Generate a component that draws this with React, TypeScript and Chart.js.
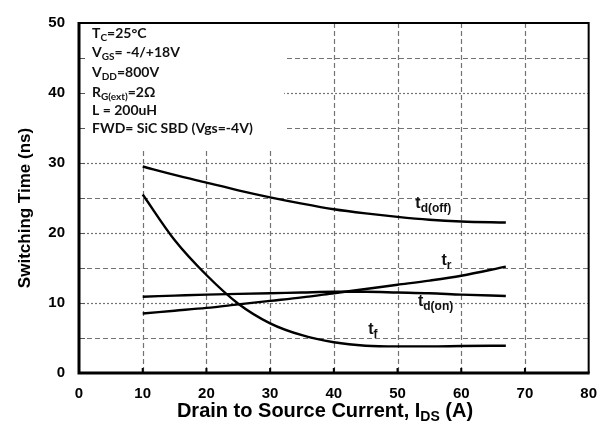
import { useEffect, useRef } from "react";
import { Chart, registerables } from "chart.js";

Chart.register(...registerables);

// ---- data ----
const currents = [10, 15, 20, 25, 30, 35, 40, 45, 50, 55, 60, 67];
const tdOff = [29.5, 28.3, 27.2, 26.1, 25.1, 24.2, 23.4, 22.8, 22.3, 21.9, 21.65, 21.5];
const tRise = [8.5, 8.9, 9.3, 9.8, 10.3, 10.8, 11.4, 12.0, 12.6, 13.2, 13.9, 15.2];
const tdOn = [10.9, 11.05, 11.2, 11.3, 11.4, 11.5, 11.6, 11.6, 11.5, 11.4, 11.2, 11.0];
const tFall = [25.5, 19.0, 14.0, 9.9, 7.1, 5.4, 4.4, 3.9, 3.8, 3.8, 3.85, 3.9];

const xMin = 0;
const xMax = 80;
const xStep = 10;
const yMin = 0;
const yMax = 50;
const yStep = 10;
const yMinorStep = 5;

const xTitle: [string, boolean][] = [
  ["Drain to Source Current, I", false],
  ["DS", true],
  [" (A)", false],
];
const yTitle = "Switching Time (ns)";

const conditions: [string, boolean][][] = [
  [["T", false], ["C", true], ["=25°C", false]],
  [["V", false], ["GS", true], ["= -4/+18V", false]],
  [["V", false], ["DD", true], ["=800V", false]],
  [["R", false], ["G(ext)", true], ["=2Ω", false]],
  [["L = 200uH", false]],
  [["FWD= SiC SBD (Vgs=-4V)", false]],
];

const curveLabelNames = ["d(off)", "r", "d(on)", "f"];
const curveLabelX = [52.8, 56.9, 53.2, 45.4];
const curveLabelY = [23.6, 15.5, 9.6, 5.6];

const FONT = '"Liberation Sans", Arial, sans-serif';
const NOTE_FONT = 'Lato, "Open Sans", sans-serif';

type Part = [string, boolean];

function drawRich(
  ctx: CanvasRenderingContext2D,
  parts: Part[],
  x: number,
  y: number,
  size: number,
  subSize: number,
  subDrop: number,
  family: string,
  align: "left" | "center"
) {
  ctx.textBaseline = "alphabetic";
  ctx.textAlign = "left";
  let total = 0;
  for (const [t, sub] of parts) {
    ctx.font = `bold ${sub ? subSize : size}px ${family}`;
    total += ctx.measureText(t).width;
  }
  let cx = align === "center" ? x - total / 2 : x;
  for (const [t, sub] of parts) {
    ctx.font = `bold ${sub ? subSize : size}px ${family}`;
    ctx.fillText(t, cx, sub ? y + subDrop : y);
    cx += ctx.measureText(t).width;
  }
}

const decor = {
  id: "decor",
  beforeDatasetsDraw(chart: any) {
    const { ctx, chartArea: a, scales } = chart;
    const xs = scales.x;
    const ys = scales.y;
    ctx.save();
    ctx.strokeStyle = "#737373";
    ctx.lineWidth = 1.2;
    // vertical dashed grid
    ctx.setLineDash([5, 3]);
    for (let v = xMin + xStep; v < xMax; v += xStep) {
      const px = Math.round(xs.getPixelForValue(v)) + 0.5;
      ctx.beginPath();
      ctx.moveTo(px, a.top);
      ctx.lineTo(px, a.bottom);
      ctx.stroke();
    }
    // horizontal grid: dotted at majors, dashed at half steps
    for (let v = yMin + yMinorStep; v < yMax; v += yMinorStep) {
      const major = v % yStep === 0;
      ctx.setLineDash(major ? [2, 2] : [5, 3]);
      const py = Math.round(ys.getPixelForValue(v)) + 0.5;
      ctx.beginPath();
      ctx.moveTo(a.left, py);
      ctx.lineTo(a.right, py);
      ctx.stroke();
    }
    ctx.setLineDash([]);
    // white box behind the test conditions
    const boxRight = xs.getPixelForValue(32.2);
    const boxBottom = ys.getPixelForValue(32);
    ctx.fillStyle = "#fff";
    ctx.fillRect(a.left, a.top, boxRight - a.left, boxBottom - a.top);
    // short inner ticks on left axis
    ctx.strokeStyle = "#555";
    ctx.lineWidth = 1;
    for (let v = yMin + yMinorStep; v < yMax; v += yMinorStep) {
      const py = Math.round(ys.getPixelForValue(v)) + 0.5;
      ctx.beginPath();
      ctx.moveTo(a.left, py);
      ctx.lineTo(a.left + 6, py);
      ctx.stroke();
    }
    // test conditions
    ctx.fillStyle = "#111";
    const baselines = [38, 57, 77, 97, 115, 133];
    conditions.forEach((line, i) => {
      drawRich(ctx, line, a.left + 13, baselines[i], 14, 10, 3, NOTE_FONT, "left");
    });
    ctx.restore();
  },
  afterDatasetsDraw(chart: any) {
    const { ctx, chartArea: a, scales } = chart;
    const xs = scales.x;
    const ys = scales.y;
    ctx.save();
    // frame
    ctx.strokeStyle = "#000";
    ctx.lineWidth = 2;
    ctx.beginPath();
    ctx.moveTo(a.left, a.top);
    ctx.lineTo(a.right, a.top);
    ctx.lineTo(a.right, a.bottom);
    ctx.stroke();
    ctx.lineWidth = 3;
    ctx.beginPath();
    ctx.moveTo(a.left, a.top - 1);
    ctx.lineTo(a.left, a.bottom);
    ctx.lineTo(a.right + 1, a.bottom);
    ctx.stroke();
    // small inner ticks on x axis
    ctx.lineWidth = 2;
    for (let v = xMin + xStep; v < xMax; v += xStep) {
      const px = xs.getPixelForValue(v);
      ctx.beginPath();
      ctx.moveTo(px, a.bottom);
      ctx.lineTo(px, a.bottom - 5);
      ctx.stroke();
    }
    // curve labels
    ctx.fillStyle = "#111";
    curveLabelNames.forEach((name, i) => {
      const px = xs.getPixelForValue(curveLabelX[i]);
      const py = ys.getPixelForValue(curveLabelY[i]);
      drawRich(ctx, [["t", false], [name, true]], px, py, 16, 12, 4, FONT, "left");
    });
    // axis titles
    ctx.fillStyle = "#000";
    drawRich(ctx, xTitle, 325, 417, 20, 14, 4, FONT, "center");
    ctx.save();
    ctx.translate(30, (a.top + a.bottom) / 2 + 10);
    ctx.rotate(-Math.PI / 2);
    ctx.font = `bold 17px ${FONT}`;
    ctx.textAlign = "center";
    ctx.textBaseline = "alphabetic";
    ctx.fillText(yTitle, 0, 0);
    ctx.restore();
    ctx.restore();
  },
};

function series(values: number[]) {
  return currents.map((x, i) => ({ x, y: values[i] }));
}

export default function App() {
  const ref = useRef<HTMLCanvasElement | null>(null);
  useEffect(() => {
    document.body.style.margin = "0";
    const canvas = ref.current;
    if (!canvas) return;
    const mk = (label: string, values: number[]) => ({
      label,
      data: series(values),
      borderColor: "#000",
      borderWidth: 2.4,
      pointRadius: 0,
      fill: false,
      cubicInterpolationMode: "monotone" as const,
    });
    const chart = new Chart(canvas, {
      type: "line",
      data: {
        datasets: [
          mk("td(off)", tdOff),
          mk("tr", tRise),
          mk("td(on)", tdOn),
          mk("tf", tFall),
        ],
      },
      options: {
        animation: false,
        responsive: false,
        devicePixelRatio: 1,
        layout: { padding: { top: 14, right: 10, left: 0, bottom: 0 } },
        plugins: { legend: { display: false }, tooltip: { enabled: false } },
        scales: {
          x: {
            type: "linear",
            min: xMin,
            max: xMax,
            grid: { display: false, drawTicks: false },
            border: { display: false },
            ticks: {
              stepSize: xStep,
              padding: 12,
              color: "#000",
              font: { family: FONT, size: 15, weight: "bold" },
              maxRotation: 0,
            },
            afterFit: (s: any) => {
              s.height = 59;
            },
          },
          y: {
            type: "linear",
            min: yMin,
            max: yMax,
            grid: { display: false, drawTicks: false },
            border: { display: false },
            ticks: {
              stepSize: yStep,
              padding: 14,
              color: "#000",
              font: { family: FONT, size: 15, weight: "bold" },
            },
            afterFit: (s: any) => {
              s.width = 79;
            },
          },
        },
      },
      plugins: [decor],
    });
    return () => chart.destroy();
  }, []);
  return (
    <canvas
      ref={ref}
      width={609}
      height={432}
      style={{ display: "block", width: 609, height: 432 }}
    />
  );
}
